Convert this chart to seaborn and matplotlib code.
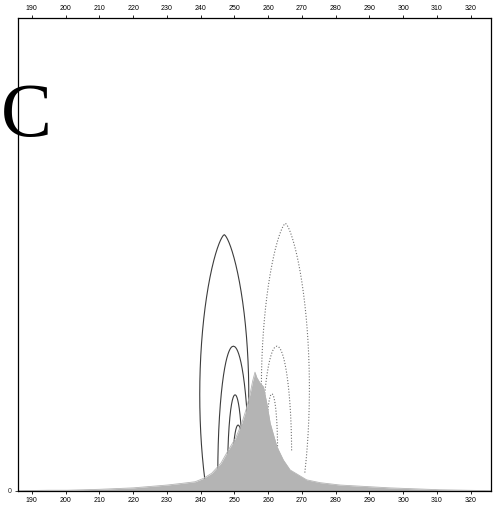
import matplotlib
matplotlib.use("Agg")
import matplotlib.pyplot as plt
import numpy as np
import pandas as pd
import seaborn as sns

# Measured intensity profile (position, intensity)
profile_x = [186.0, 195.0, 200.5, 210.2, 220.0, 230.1, 235.0, 238.4, 240.8, 243.3,
             246.0, 248.2, 250.4, 252.2, 253.6, 254.7, 255.4, 256.1, 256.6, 257.6,
             258.6, 259.6, 260.6, 262.6, 264.5, 266.5, 271.4, 275.4, 281.3, 296.1,
             310.9, 326.0]
profile_y = [0.000, 0.001, 0.001, 0.003, 0.006, 0.012, 0.016, 0.019, 0.026, 0.037,
             0.058, 0.086, 0.112, 0.143, 0.175, 0.207, 0.232, 0.251, 0.240, 0.228,
             0.220, 0.185, 0.143, 0.093, 0.065, 0.044, 0.023, 0.017, 0.012, 0.006,
             0.002, 0.000]

# Contour loops: apex position, apex height, half-width, depth, shape exponent
left_apex_x = [247.0, 249.7, 250.2, 251.1]
left_apex_y = [0.542, 0.306, 0.203, 0.139]
left_half_w = [7.26, 4.62, 2.22, 1.63]
left_depth = [0.677, 0.546, 0.339, 0.212]
left_shape = [0.7, 0.5, 0.5, 0.5]
left_floor = [0.0, 0.0, 0.0, 0.0]

right_apex_x = [265.1, 262.6, 261.1, 260.1]
right_apex_y = [0.566, 0.306, 0.205, 0.139]
right_half_w = [7.11, 4.35, 1.69, 1.33]
right_depth = [0.699, 0.457, 0.237, 0.190]
right_shape = [0.7, 0.5, 0.5, 0.5]
right_floor = [0.035, 0.083, 0.085, 0.06]

x_ticks = [190, 200, 210, 220, 230, 240, 250, 260, 270, 280, 290, 300, 310, 320]


def loop(cx, top, hw, depth, p, floor):
    u = np.linspace(0.0, 1.0, 400)
    w = hw * np.clip(4 * u * (1 - u), 0, None) ** p
    y = top - u * depth
    keep = y >= floor
    xs = np.concatenate([(cx - w)[keep][::-1], (cx + w)[keep]])
    ys = np.concatenate([y[keep][::-1], y[keep]])
    return pd.DataFrame({"x": xs, "y": ys})


sns.set_style("ticks")
plt.rcParams["font.family"] = ["Liberation Sans", "DejaVu Sans"]

fig = plt.figure(figsize=(4.94, 5.05), dpi=100)
ax = fig.add_axes([0.037, 0.0283, 0.9563, 0.9354])

for args in zip(left_apex_x, left_apex_y, left_half_w, left_depth, left_shape, left_floor):
    sns.lineplot(data=loop(*args), x="x", y="y", ax=ax, sort=False, estimator=None,
                 color="#3c3c3c", linewidth=0.8, zorder=1)
for args in zip(right_apex_x, right_apex_y, right_half_w, right_depth, right_shape, right_floor):
    sns.lineplot(data=loop(*args), x="x", y="y", ax=ax, sort=False, estimator=None,
                 color="#707070", linewidth=0.8, linestyle=(0, (1, 1.6)), zorder=1)

df = pd.DataFrame({"x": profile_x, "y": profile_y})
ax.fill_between(df["x"], 0, df["y"], color="#b4b4b4", linewidth=0, zorder=2)
sns.lineplot(data=df, x="x", y="y", ax=ax, color="#b4b4b4", linewidth=0.6,
             zorder=2, estimator=None, sort=False)

ax.set_xlim(186.0, 325.9)
ax.set_ylim(0, 1.0)
ax.set_xlabel("")
ax.set_ylabel("")
ax.set_xticks(x_ticks)
ax.set_xticklabels([str(t) for t in x_ticks])
ax.set_yticks([0])
ax.set_yticklabels(["0"])
ax.tick_params(axis="x", which="both", top=True, labeltop=True, bottom=True,
               labelbottom=True, direction="out", length=2.5, width=0.6,
               labelsize=5, pad=2, colors="black")
ax.tick_params(axis="y", left=True, right=False, direction="out", length=2.5,
               width=0.6, labelsize=5, pad=2)
for side in ["left", "right", "top", "bottom"]:
    ax.spines[side].set_visible(True)
    ax.spines[side].set_linewidth(0.9)
    ax.spines[side].set_color("black")

fig.text(0.001, 0.73, "C", family=["Liberation Serif", "DejaVu Serif"],
         fontsize=55, color="black", ha="left", va="baseline")

fig.savefig("out.png", dpi=100)
